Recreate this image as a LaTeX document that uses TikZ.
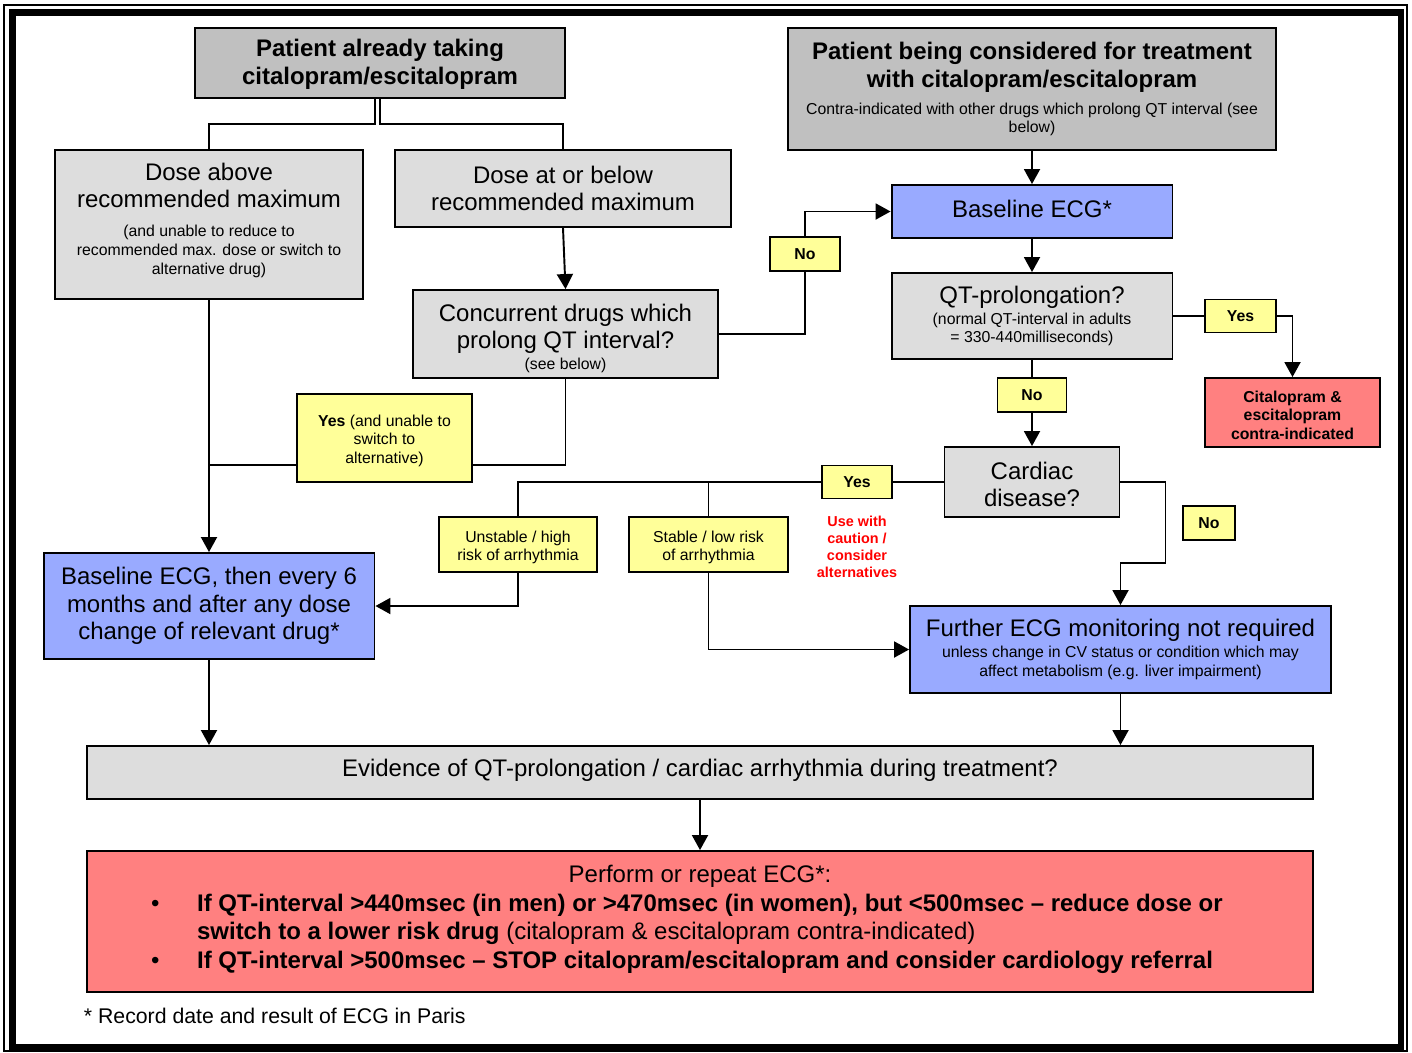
\documentclass[tikz,border=0pt]{standalone}
\usepackage{fontspec}
\setmainfont{Liberation Sans}
\usetikzlibrary{arrows.meta}

\definecolor{titlegrey}{HTML}{C0C0C0}
\definecolor{boxgrey}{HTML}{DDDDDD}
\definecolor{ecgblue}{HTML}{99AAFF}
\definecolor{stopred}{HTML}{FF8080}
\definecolor{tagyellow}{HTML}{FFFF99}

\newcommand{\bigtext}{\fontsize{13.65}{15.6}\selectfont}
\newcommand{\titletext}{\fontsize{13.65}{15.9}\selectfont\bfseries}
\newcommand{\notetext}{\fontsize{9}{10.4}\selectfont}
\newcommand{\tagtext}{\fontsize{9}{10.5}\selectfont}
\newcommand{\padbottom}[1]{\par\vspace{#1}\hrule height0pt width0pt}

\tikzset{
  box/.style={draw, inner sep=0pt, align=flush center, font=\bigtext},
  dims/.style 2 args={text width=#1cm, minimum height=#2cm},
  titlebox/.style={box, fill=titlegrey, font=\titletext},
  greybox/.style={box, fill=boxgrey},
  bluebox/.style={box, fill=ecgblue},
  redbox/.style={box, fill=stopred},
  tag/.style={box, fill=tagyellow, font=\tagtext},
  arr/.style={-{Triangle[width=0.32cm,length=0.3cm]}}
}

\begin{document}
\begin{tikzpicture}[x=0.02cm, y=-0.02cm, line width=1.1pt]
  \useasboundingbox (0,0) rectangle (1412,1052);
  \draw[line width=0.6pt] (4,5) rectangle (1407,1051);
  \draw[line width=3.8pt] (12.5,12.5) rectangle (1401,1047);

  \node[titlebox, dims={7.4}{1.4}] (alreadyBox) at (380,63)
    {Patient already taking\\citalopram/escitalopram\padbottom{-2pt}};
  \node[titlebox, dims={9.76}{2.44}] (considerBox) at (1032,89)
    {Patient being considered for treatment\\with citalopram/escitalopram\par
     \vspace{5pt}{\notetext\mdseries Contra-indicated with other drugs which prolong QT interval (see\\below)\par}};
  \node[greybox, dims={6.16}{2.98}] (doseAbove) at (209,224.5)
    {Dose above\\recommended maximum\par
     \vspace{5.5pt}{\fontsize{9}{10.8}\selectfont (and unable to reduce to\\recommended max. dose or switch to\\alternative drug)\par}
     \padbottom{5pt}};
  \node[greybox, dims={6.72}{1.54}] (doseBelow) at (563,188.5)
    {Dose at or below\\recommended maximum};
  \node[greybox, dims={6.1}{1.76}] (concurrent) at (565.5,334)
    {Concurrent drugs which\\prolong QT interval?\par
     \vspace{1.5pt}{\notetext (see below)\par}\padbottom{-5pt}};
  \node[bluebox, dims={5.62}{1.06}] (baseECG) at (1032,211.5) {Baseline ECG*\padbottom{3pt}};
  \node[tag, dims={1.4}{0.68}] (noA) at (805,254) {\textbf{No}};
  \node[greybox, dims={5.62}{1.72}] (qtBox) at (1032,316)
    {QT-prolongation?\par
     \vspace{1.5pt}{\notetext (normal QT-interval in adults\\= 330-440milliseconds)\par}};
  \node[tag, dims={1.42}{0.66}] (yesA) at (1240.5,316) {\textbf{Yes}};
  \node[redbox, dims={3.5}{1.38}, font=\tagtext\bfseries] (contra) at (1292.5,412.5)
    {Citalopram \&\\escitalopram\\contra-indicated\padbottom{-3pt}};
  \node[tag, dims={1.38}{0.68}] (noB) at (1032,395) {\textbf{No}};
  \node[greybox, dims={3.5}{1.4}] (cardiac) at (1032,482) {Cardiac\\disease?\padbottom{-3pt}};
  \node[tag, dims={1.4}{0.66}] (yesB) at (857,482) {\textbf{Yes}};
  \node[font=\fontsize{8.2}{9.6}\selectfont\bfseries, text=red, align=center] (caution) at (857,547)
    {Use with\\caution /\\consider\\alternatives};
  \node[tag, dims={1.04}{0.68}] (noC) at (1209,523) {\textbf{No}};
  \node[tag, dims={3.5}{1.76}] (yesSwitch) at (384.5,438)
    {\textbf{Yes} (and unable to\\switch to\\alternative)\padbottom{-3pt}};
  \node[tag, dims={3.16}{1.1}] (unstable) at (518,544.5) {Unstable / high\\risk of arrhythmia\padbottom{-3pt}};
  \node[tag, dims={3.18}{1.1}] (stable) at (708.5,544.5) {Stable / low risk\\of arrhythmia\padbottom{-3pt}};
  \node[bluebox, dims={6.62}{2.12}] (monitorECG) at (209,606)
    {Baseline ECG, then every 6\\months and after any dose\\change of relevant drug*};
  \node[bluebox, dims={8.42}{1.74}] (furtherECG) at (1120.5,649.5)
    {Further ECG monitoring not required\par
     \vspace{1.5pt}{\notetext unless change in CV status or condition which may\\affect metabolism (e.g. liver impairment)\par}};
  \node[greybox, dims={24.52}{1.06}] (evidence) at (700,772.5)
    {Evidence of QT-prolongation / cardiac arrhythmia during treatment?\padbottom{2pt}};
  \node[redbox, dims={24.52}{2.82}, font=\fontsize{13.65}{16.4}\selectfont] (action) at (700,921.5)
    {\begin{tabular}{@{}p{2.2cm}@{}p{22.32cm}@{}}
       \multicolumn{2}{@{}c@{}}{Perform or repeat ECG*:}\\
       \hspace*{1.28cm}\textbullet & \textbf{If QT-interval >440msec (in men) or >470msec (in women), but <500msec – reduce dose or}\\
        & \textbf{switch to a lower risk drug} (citalopram \& escitalopram contra-indicated)\\
       \hspace*{1.28cm}\textbullet & \textbf{If QT-interval >500msec – STOP citalopram/escitalopram and consider cardiology referral}
     \end{tabular}\padbottom{2pt}};
  \node[anchor=west, inner sep=0pt, font=\fontsize{12.1}{14}\selectfont] (footnote) at (83,1016)
    {* Record date and result of ECG in Paris};

  \draw ([xshift=-0.1cm]alreadyBox.south) -- ++(0,25) -| (doseAbove.north);
  \draw (alreadyBox.south) -- ++(0,25) -| (doseBelow.north);
  \draw[arr] (doseBelow.south) -- (concurrent.north);
  \draw (concurrent.east) -| (noA.south);
  \draw[arr] (noA.north) |- (baseECG.west);
  \draw[arr] (considerBox.south) -- (baseECG.north);
  \draw[arr] (baseECG.south) -- (qtBox.north);
  \draw (qtBox.east) -- (yesA.west);
  \draw[arr] (yesA.east) -| (contra.north);
  \draw (qtBox.south) -- (noB.north);
  \draw[arr] (noB.south) -- (cardiac.north);
  \draw[arr] (cardiac.east) -| ++(45,81) -| (furtherECG.north);
  \draw (cardiac.west) -- (yesB.east);
  \draw (yesB.west) -| (unstable.north);
  \draw (stable.north) -- (stable.north |- yesB.west);
  \draw[arr] (unstable.south) |- (monitorECG.east);
  \draw[arr] (stable.south) |- (furtherECG.west);
  \coordinate (switchIn) at ([yshift=-0.54cm]yesSwitch.east);
  \coordinate (switchOut) at ([yshift=-0.54cm]yesSwitch.west);
  \draw (concurrent.south) |- (switchIn);
  \draw (switchOut) -- (switchOut -| doseAbove.south);
  \draw[arr] (doseAbove.south) -- (monitorECG.north);
  \draw[arr] (monitorECG.south) -- (monitorECG.south |- evidence.north);
  \draw[arr] (furtherECG.south) -- (furtherECG.south |- evidence.north);
  \draw[arr] (evidence.south) -- (action.north);
\end{tikzpicture}
\end{document}
